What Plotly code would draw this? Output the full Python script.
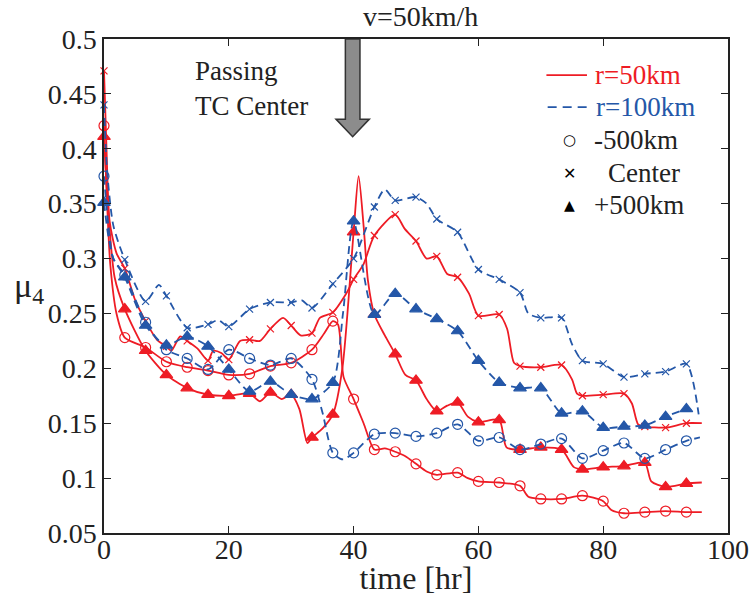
import plotly.graph_objects as go

# sampling instants of the plotted markers [hr]
T_MK = [0, 3.33, 6.67, 10, 13.33, 16.67, 20, 23.33, 26.67, 30, 33.33, 36.67, 40,
        43.33, 46.67, 50, 53.33, 56.67, 60, 63.33, 66.67, 70, 73.33, 76.67, 80,
        83.33, 86.67, 90, 93.33]

# r = 50 km, -500 km
r50_m500 = [0.421, 0.228, 0.219, 0.206, 0.201, 0.198, 0.194, 0.195, 0.202, 0.205,
            0.217, 0.243, 0.172, 0.126, 0.124, 0.113, 0.103, 0.105, 0.097, 0.096,
            0.093, 0.081, 0.081, 0.084, 0.079, 0.068, 0.069, 0.070, 0.069]
r50_m500_tx = [0.5, 1.0, 2.0, 35.3, 37.5, 38.4, 41.6, 45.0, 48.3, 51.7, 58.3, 68.0, 81.3, 95.8]
r50_m500_vx = [0.350, 0.295, 0.250, 0.232, 0.240, 0.192, 0.150, 0.127, 0.120, 0.106, 0.100, 0.083, 0.071, 0.069]

# r = 50 km, center
r50_c = [0.471, 0.291, 0.243, 0.220, 0.225, 0.207, 0.208, 0.226, 0.236, 0.239,
         0.232, 0.251, 0.281, 0.321, 0.340, 0.316, 0.302, 0.283, 0.248, 0.249,
         0.202, 0.201, 0.203, 0.175, 0.176, 0.177, 0.147, 0.146, 0.150]
r50_c_tx = [0.4, 0.9, 2.0, 5.0, 8.5, 10.8, 12.2, 15.0, 17.5, 18.8, 21.8, 25.0, 28.7, 31.5,
            34.6, 38.8, 41.6, 48.2, 51.7, 55.0, 58.5, 64.6, 65.7, 75.0, 75.8, 84.6, 85.6, 95.8]
r50_c_vx = [0.400, 0.334, 0.305, 0.262, 0.226, 0.216, 0.229, 0.218, 0.216, 0.214, 0.225, 0.225,
            0.246, 0.230, 0.246, 0.268, 0.295, 0.327, 0.300, 0.286, 0.268, 0.236, 0.205, 0.190,
            0.177, 0.168, 0.149, 0.150]

# r = 50 km, +500 km
r50_p500 = [0.411, 0.254, 0.216, 0.194, 0.182, 0.176, 0.175, 0.177, 0.178, 0.176,
            0.137, 0.158, 0.324, 0.249, 0.213, 0.189, 0.161, 0.169, 0.151, 0.153,
            0.126, 0.128, 0.126, 0.108, 0.110, 0.111, 0.114, 0.092, 0.095]
r50_p500_tx = [0.6, 1.7, 25.0, 28.5, 31.3, 32.6, 35.0, 38.2, 40.8, 41.6, 42.3, 45.0, 48.3,
               51.7, 55.0, 58.3, 64.5, 75.3, 87.7, 95.8]
r50_p500_vx = [0.350, 0.283, 0.170, 0.172, 0.163, 0.132, 0.145, 0.200, 0.375, 0.330, 0.280,
               0.230, 0.194, 0.172, 0.166, 0.156, 0.128, 0.110, 0.097, 0.096]

# r = 100 km, -500 km
r100_m500 = [0.375, 0.285, 0.242, 0.217, 0.209, 0.199, 0.217, 0.209, 0.203, 0.209,
             0.190, 0.123, 0.123, 0.140, 0.141, 0.138, 0.141, 0.149, 0.134, 0.137,
             0.126, 0.131, 0.136, 0.118, 0.125, 0.132, 0.118, 0.126, 0.134]
r100_m500_tx = [0.7, 1.5, 35.0, 38.3, 95.5]
r100_m500_vx = [0.330, 0.300, 0.160, 0.117, 0.137]

# r = 100 km, center
r100_c = [0.440, 0.299, 0.261, 0.266, 0.237, 0.240, 0.238, 0.254, 0.260, 0.260,
          0.255, 0.277, 0.300, 0.347, 0.353, 0.356, 0.336, 0.324, 0.290, 0.281,
          0.269, 0.246, 0.246, 0.207, 0.204, 0.192, 0.195, 0.197, 0.204]
r100_c_tx = [0.5, 1.5, 8.8, 18.3, 31.7, 45.0, 51.7, 68.0, 75.0, 95.3]
r100_c_vx = [0.380, 0.330, 0.276, 0.244, 0.262, 0.363, 0.350, 0.250, 0.222, 0.158]

# r = 100 km, +500 km
r100_p500 = [0.351, 0.283, 0.239, 0.221, 0.229, 0.220, 0.199, 0.179, 0.188, 0.176,
             0.172, 0.187, 0.334, 0.249, 0.268, 0.254, 0.245, 0.234, 0.207, 0.187,
             0.182, 0.182, 0.159, 0.161, 0.146, 0.147, 0.148, 0.156, 0.163]
r100_p500_tx = [0.7, 1.5, 38.3]
r100_p500_vx = [0.320, 0.300, 0.250]

RED = "#ee1c25"
BLUE = "#2457a8"
INK = "#222222"
SERIF = "Liberation Serif, DejaVu Serif, serif"
SYM = "DejaVu Sans, sans-serif"


def merged(mk, tx, vx):
    pts = sorted(list(zip(T_MK, mk)) + list(zip(tx, vx)))
    return [p[0] for p in pts], [p[1] for p in pts]


series = [
    (r50_m500, r50_m500_tx, r50_m500_vx, RED, "solid", "circle-open", 10),
    (r50_c, r50_c_tx, r50_c_vx, RED, "solid", "x-thin-open", 7),
    (r50_p500, r50_p500_tx, r50_p500_vx, RED, "solid", "triangle-up", 11),
    (r100_m500, r100_m500_tx, r100_m500_vx, BLUE, "8px,5px", "circle-open", 10),
    (r100_c, r100_c_tx, r100_c_vx, BLUE, "8px,5px", "x-thin-open", 7),
    (r100_p500, r100_p500_tx, r100_p500_vx, BLUE, "8px,5px", "triangle-up", 11),
]

fig = go.Figure()
for mk, tx, vx, col, dash, sym, size in series:
    t, v = merged(mk, tx, vx)
    fig.add_trace(go.Scatter(x=t, y=v, mode="lines", showlegend=False,
                             line=dict(color=col, width=1.8, dash=dash,
                                       shape="spline", smoothing=0.7)))
    fig.add_trace(go.Scatter(x=T_MK, y=mk, mode="markers", showlegend=False,
                             cliponaxis=False,
                             marker=dict(symbol=sym, size=size, color=col,
                                         line=dict(color=col, width=1.2))))

# legend block (top right)
fig.add_shape(type="line", xref="paper", yref="paper", x0=0.709, x1=0.774, y0=0.927, y1=0.927,
              line=dict(color=RED, width=1.8))
fig.add_shape(type="line", xref="paper", yref="paper", x0=0.711, x1=0.778, y0=0.862, y1=0.862,
              line=dict(color=BLUE, width=1.8, dash="9px,6px"))
legend_text = [
    (0.783, 0.927, "r=50km", RED),
    (0.786, 0.862, "r=100km", BLUE),
    (0.782, 0.7955, "-500km", INK),
    (0.804, 0.7287, "Center", INK),
    (0.782, 0.664, "+500km", INK),
]
for lx, ly, txt, col in legend_text:
    fig.add_annotation(x=lx, y=ly, xref="paper", yref="paper", text=txt, showarrow=False,
                       xanchor="left", yanchor="middle",
                       font=dict(family=SERIF, size=27, color=col))
for ly, glyph, fs in [(0.7955, "\u25cb", 15), (0.7287, "\u2715", 16), (0.664, "\u25b2", 14)]:
    fig.add_annotation(x=0.7463, y=ly, xref="paper", yref="paper", text=glyph, showarrow=False,
                       xanchor="center", yanchor="middle",
                       font=dict(family=SYM, size=fs, color="black"))

# arrow marking the passage of the TC centre
xc, hs, hh, yb, ytip = 39.85, 1.17, 2.67, 0.427, 0.411
fig.add_shape(type="path", xref="x", yref="y",
              path=(f"M {xc-hs},0.5 L {xc-hs},{yb} L {xc-hh},{yb} L {xc},{ytip} "
                    f"L {xc+hh},{yb} L {xc+hs},{yb} L {xc+hs},0.5 Z"),
              fillcolor="#8c8c8c", line=dict(color="#333333", width=1.5))

fig.add_annotation(x=14.2, y=0.455, xref="x", yref="y", text="Passing<br>TC Center",
                   showarrow=False, xanchor="left", yanchor="middle", align="left",
                   font=dict(family=SERIF, size=27, color=INK))
fig.add_annotation(x=0.507, y=1.046, xref="paper", yref="paper", text="v=50km/h",
                   showarrow=False, xanchor="center", yanchor="middle",
                   font=dict(family=SERIF, size=28, color=INK))
fig.add_annotation(x=-0.12, y=0.496, xref="paper", yref="paper", text="\u03bc<sub>4</sub>",
                   showarrow=False, xanchor="center", yanchor="middle",
                   font=dict(family=SERIF, size=34, color=INK))

Y_TICKS = [0.05, 0.1, 0.15, 0.2, 0.25, 0.3, 0.35, 0.4, 0.45, 0.5]
Y_LABELS = ["0.05", "0.1", "0.15", "0.2", "0.25", "0.3", "0.35", "0.4", "0.45", "0.5"]
X_TICKS = [0, 20, 40, 60, 80, 100]

axis_common = dict(showline=True, linecolor=INK, linewidth=1.5, mirror="ticks",
                   ticks="inside", ticklen=7, tickcolor=INK, tickwidth=1.2,
                   showgrid=False, zeroline=False, automargin=False,
                   tickfont=dict(family=SERIF, size=28, color=INK))

fig.update_xaxes(range=[0, 100], tickvals=X_TICKS, ticklabelstandoff=-9,
                 title=dict(text="time [hr]", font=dict(family=SERIF, size=32, color=INK),
                            standoff=2),
                 **axis_common)
fig.update_yaxes(range=[0.05, 0.5], tickvals=Y_TICKS, ticktext=Y_LABELS, **axis_common)

fig.update_layout(
    width=755, height=596,
    margin=dict(l=104, r=27, t=39, b=63),
    paper_bgcolor="white", plot_bgcolor="white",
    showlegend=False,
)

fig.write_html("out.html")
